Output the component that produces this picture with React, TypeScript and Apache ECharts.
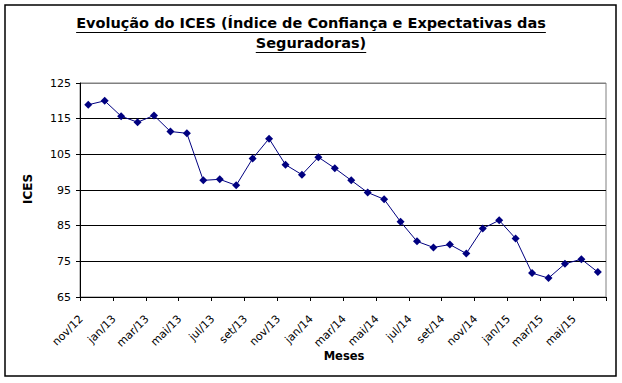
import React, { useEffect, useRef } from "react";
import * as echarts from "echarts";

const months: string[] = [
  "nov/12", "dez/12",
  "jan/13", "fev/13", "mar/13", "abr/13", "mai/13", "jun/13", "jul/13", "ago/13", "set/13", "out/13", "nov/13", "dez/13",
  "jan/14", "fev/14", "mar/14", "abr/14", "mai/14", "jun/14", "jul/14", "ago/14", "set/14", "out/14", "nov/14", "dez/14",
  "jan/15", "fev/15", "mar/15", "abr/15", "mai/15", "jun/15",
];

const icesValues: number[] = [
  118.9, 120.0,
  115.7, 114.0, 115.9, 111.4, 110.9, 97.7, 98.0, 96.3, 103.8, 109.4, 102.1, 99.3,
  104.2, 101.1, 97.7, 94.3, 92.4, 86.1, 80.6, 78.9, 79.7, 77.2, 84.2, 86.5,
  81.4, 71.7, 70.3, 74.3, 75.6, 72.0,
];

const yTicks: number[] = [65, 75, 85, 95, 105, 115, 125];

const titleLines: string[] = [
  "Evolução do ICES (Índice de Confiança e Expectativas das",
  "Seguradoras)",
];
const yTitle = "ICES";
const xTitle = "Meses";

const FONT = "'DejaVu Sans', Verdana, sans-serif";

function measure(text: string, font: string): number {
  const c = document.createElement("canvas").getContext("2d");
  if (!c) return text.length * 8;
  c.font = font;
  return c.measureText(text).width;
}

export default function App() {
  const ref = useRef<HTMLDivElement>(null);

  useEffect(() => {
    if (!ref.current) return;
    const chart = echarts.init(ref.current, undefined, { renderer: "svg" });

    const titleSize = 14.5;
    const titleFont = `bold ${titleSize}px 'DejaVu Sans'`;
    const cx = 311;
    const lineYs = [23, 43];
    const titleGraphics: any[] = [];
    titleLines.forEach((t, i) => {
      const w = measure(t, titleFont);
      titleGraphics.push({
        type: "text",
        x: cx,
        y: lineYs[i],
        style: {
          text: t,
          fill: "#000",
          fontFamily: FONT,
          fontSize: titleSize,
          fontWeight: "bold",
          align: "center",
          verticalAlign: "middle",
        },
      });
      titleGraphics.push({
        type: "line",
        shape: { x1: cx - w / 2, y1: lineYs[i] + 9.5, x2: cx + w / 2, y2: lineYs[i] + 9.5 },
        style: { stroke: "#000", lineWidth: 1 },
      });
    });

    chart.setOption({
      animation: false,
      backgroundColor: "#fff",
      grid: {
        left: 80,
        top: 83,
        right: 16,
        bottom: 86,
        show: true,
        borderColor: "#808080",
        borderWidth: 1,
        backgroundColor: "transparent",
      },
      xAxis: {
        type: "category",
        data: months,
        boundaryGap: true,
        axisLine: { lineStyle: { color: "#000", width: 1 } },
        axisTick: { show: true, interval: 1, length: 4, lineStyle: { color: "#000" } },
        axisLabel: {
          interval: 1,
          rotate: 45,
          color: "#000",
          fontFamily: FONT,
          fontSize: 11,
          margin: 13,
          padding: [0, 10, 0, 0],
        },
        splitLine: { show: false },
      },
      yAxis: {
        type: "value",
        min: 65,
        max: 125,
        interval: 10,
        axisLine: { show: true, lineStyle: { color: "#000", width: 1 } },
        axisTick: { show: true, length: 4, lineStyle: { color: "#000" } },
        axisLabel: {
          color: "#000",
          fontFamily: FONT,
          fontSize: 11,
          margin: 9,
          formatter: (v: number) => (yTicks.includes(v) ? String(v) : ""),
        },
        splitLine: {
          show: true,
          lineStyle: {
            color: ["#000", "#000", "#000", "#000", "#000", "#000", "#808080"],
            width: 1,
          },
        },
      },
      series: [
        {
          type: "line",
          data: icesValues,
          symbol: "diamond",
          symbolSize: 8,
          lineStyle: { color: "#000080", width: 1 },
          itemStyle: { color: "#000080" },
        },
      ],
      graphic: [
        {
          type: "rect",
          shape: { x: 5, y: 5, width: 611, height: 371 },
          style: { fill: "transparent", stroke: "#000", lineWidth: 1.5 },
        },
        ...titleGraphics,
        {
          type: "text",
          x: 28,
          y: 189,
          rotation: Math.PI / 2,
          style: {
            text: yTitle,
            fill: "#000",
            fontFamily: FONT,
            fontSize: 12,
            fontWeight: "bold",
            align: "center",
            verticalAlign: "middle",
          },
        },
        {
          type: "text",
          x: 344,
          y: 356,
          style: {
            text: xTitle,
            fill: "#000",
            fontFamily: FONT,
            fontSize: 11.5,
            fontWeight: "bold",
            align: "center",
            verticalAlign: "middle",
          },
        },
      ],
    });

    return () => chart.dispose();
  }, []);

  return (
    <div
      ref={ref}
      style={{ position: "fixed", left: 0, top: 0, width: 622, height: 383, background: "#fff" }}
    />
  );
}
